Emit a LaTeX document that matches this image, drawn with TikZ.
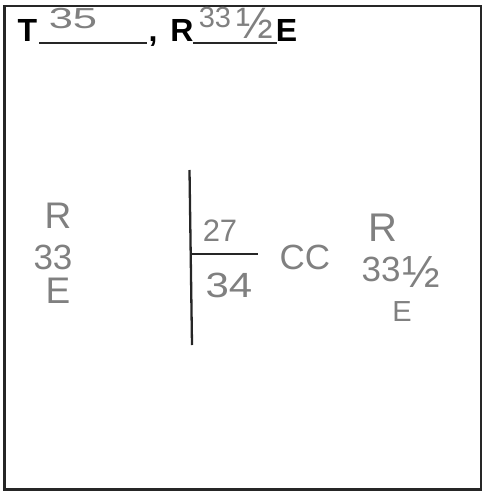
\documentclass[tikz,border=0pt]{standalone}
\usepackage{fontspec}
\setmainfont{Liberation Sans}
\definecolor{pencil}{gray}{0.5}
\definecolor{ink}{gray}{0.15}
\tikzset{print/.style={font=\fontsize{32}{32}\selectfont\bfseries,inner sep=0pt,anchor=base},
hand/.style={text=pencil,inner sep=0pt,font=\fontsize{#1}{#1}\selectfont},hand/.default=35,
rule/.style={ink,line width=2pt}}
\begin{document}
\begin{tikzpicture}[x=1pt,y=-1pt]
\useasboundingbox (0,0) rectangle (484,492);
\draw [ink,line width=2.5pt] (4.5,6) rectangle (481,489.5);
\node [print] (t) at (27.5,42) {T}; \node [print] (comma) at (153,42) {,};
\node [print] (r) at (182,42) {R}; \node [print] (e) at (286.5,42) {E};
\coordinate (ua) at (39,43); \coordinate (ub) at (147,43); \draw [rule] (ua) -- (ub);
\coordinate (va) at (193,43); \coordinate (vb) at (277,43); \draw [rule] (va) -- (vb);
\node [hand=29,xscale=1.5] (tval) at (73,19) {35};
\node [hand=29] (rval) at (215,18) {33}; \node [hand=44] (rhalf) at (255,23) {½};
\node [hand=37] (lr) at (58,216) {R}; \node [hand] (ln) at (53,257) {33}; \node [hand=37] (le) at (58,291) {E};
\coordinate (top) at (189.5,170); \coordinate (bot) at (192,345); \draw [rule,line width=2.3pt] (top) -- (bot);
\coordinate (mid) at (191,254); \coordinate (midr) at (258,254); \draw [rule] (mid) -- (midr);
\node [hand=31] (num) at (220,231) {27}; \node [hand,xscale=1.2] (den) at (229,285) {34};
\node [hand] (cc) at (305,257) {CC};
\node [hand=40] (rr) at (383,228) {R}; \node [hand] (rn) at (381,269) {33};
\node [hand=45] (rh) at (421,272) {½}; \node [hand=29] (re) at (402,312) {E};
\end{tikzpicture}
\end{document}
